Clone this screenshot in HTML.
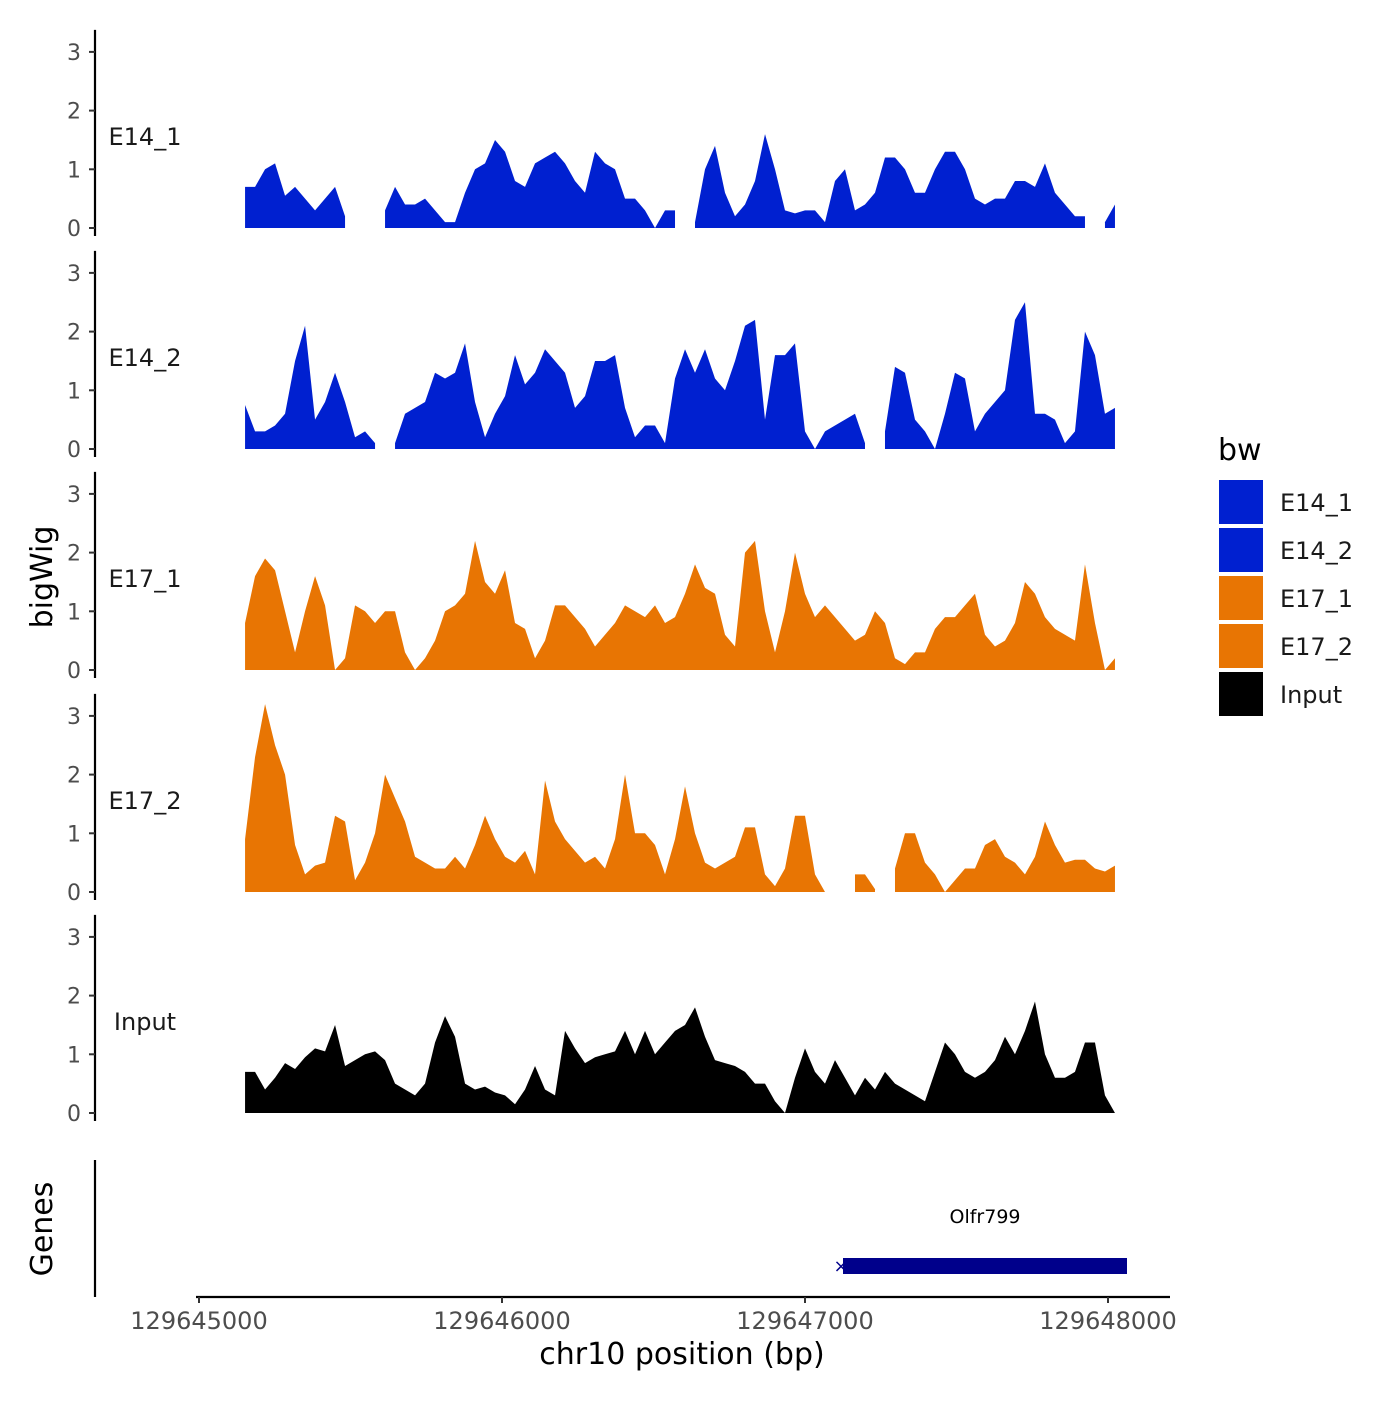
<!DOCTYPE html>
<html><head><meta charset="utf-8"><style>
body{margin:0;background:#fff}
svg text{font-family:"DejaVu Sans","Liberation Sans",sans-serif}
</style></head><body>
<svg id="chart" width="1400" height="1400" xmlns="http://www.w3.org/2000/svg">
<rect width="1400" height="1400" fill="#fff"/>
<g id="panels"></g>
<g id="xaxis"></g>
<text x="682" y="1364" font-size="30" text-anchor="middle">chr10 position (bp)</text>
<text transform="translate(52,577) rotate(-90)" font-size="30" text-anchor="middle">bigWig</text>
<text transform="translate(52,1229) rotate(-90)" font-size="30" text-anchor="middle">Genes</text>
<line x1="95" y1="1160" x2="95" y2="1297" stroke="#000" stroke-width="2.2"/>
<g>
<rect x="843" y="1258" width="284" height="16" fill="#00008B"/>
<text x="841" y="1272" font-size="18" fill="#00008B" text-anchor="middle">×</text>
<text x="985" y="1223" font-size="19" text-anchor="middle">Olfr799</text>
</g>
<g id="legend"></g>
</svg>
<script>
const trackNames=["E14_1","E14_2","E17_1","E17_2","Input"];
const trackColors=["#0020D0","#0020D0","#E87503","#E87503","#000000"];
const startBp=129645152, stepBp=33;
const yTicks=[0,1,2,3];
const xTicks=[129645000,129646000,129647000,129648000];
const n=null;
const s1=[0.7,0.7,1.0,1.1,0.55,0.7,0.5,0.3,0.5,0.7,0.2,n,n,n,0.3,0.7,0.4,0.4,0.5,0.3,0.1,0.1,0.6,1.0,1.1,1.5,1.3,0.8,0.7,1.1,1.2,1.3,1.1,0.8,0.6,1.3,1.1,1.0,0.5,0.5,0.3,0.0,0.3,0.3,n,0.1,1.0,1.4,0.6,0.2,0.4,0.8,1.6,1.0,0.3,0.25,0.3,0.3,0.1,0.8,1.0,0.3,0.4,0.6,1.2,1.2,1.0,0.6,0.6,1.0,1.3,1.3,1.0,0.5,0.4,0.5,0.5,0.8,0.8,0.7,1.1,0.6,0.4,0.2,0.2,n,0.1,0.4];
const s2=[0.75,0.3,0.3,0.4,0.6,1.5,2.1,0.5,0.8,1.3,0.8,0.2,0.3,0.1,n,0.1,0.6,0.7,0.8,1.3,1.2,1.3,1.8,0.8,0.2,0.6,0.9,1.6,1.1,1.3,1.7,1.5,1.3,0.7,0.9,1.5,1.5,1.6,0.7,0.2,0.4,0.4,0.1,1.2,1.7,1.3,1.7,1.2,1.0,1.5,2.1,2.2,0.5,1.6,1.6,1.8,0.3,0.0,0.3,0.4,0.5,0.6,0.1,n,0.3,1.4,1.3,0.5,0.3,0.0,0.6,1.3,1.2,0.3,0.6,0.8,1.0,2.2,2.5,0.6,0.6,0.5,0.1,0.3,2.0,1.6,0.6,0.7];
const s3=[0.8,1.6,1.9,1.7,1.0,0.3,1.0,1.6,1.1,0.0,0.2,1.1,1.0,0.8,1.0,1.0,0.3,0.0,0.2,0.5,1.0,1.1,1.3,2.2,1.5,1.3,1.7,0.8,0.7,0.2,0.5,1.1,1.1,0.9,0.7,0.4,0.6,0.8,1.1,1.0,0.9,1.1,0.8,0.9,1.3,1.8,1.4,1.3,0.6,0.4,2.0,2.2,1.0,0.3,1.0,2.0,1.3,0.9,1.1,0.9,0.7,0.5,0.6,1.0,0.8,0.2,0.1,0.3,0.3,0.7,0.9,0.9,1.1,1.3,0.6,0.4,0.5,0.8,1.5,1.3,0.9,0.7,0.6,0.5,1.8,0.8,0.0,0.2];
const s4=[0.9,2.3,3.2,2.5,2.0,0.8,0.3,0.45,0.5,1.3,1.2,0.2,0.5,1.0,2.0,1.6,1.2,0.6,0.5,0.4,0.4,0.6,0.4,0.8,1.3,0.9,0.6,0.5,0.7,0.3,1.9,1.2,0.9,0.7,0.5,0.6,0.4,0.9,2.0,1.0,1.0,0.8,0.3,0.9,1.8,1.0,0.5,0.4,0.5,0.6,1.1,1.1,0.3,0.1,0.4,1.3,1.3,0.3,0.0,n,n,0.3,0.3,0.05,n,0.4,1.0,1.0,0.5,0.3,0.0,0.2,0.4,0.4,0.8,0.9,0.6,0.5,0.3,0.6,1.2,0.8,0.5,0.55,0.55,0.4,0.35,0.45];
const s5=[0.7,0.7,0.4,0.6,0.85,0.75,0.95,1.1,1.05,1.5,0.8,0.9,1.0,1.05,0.9,0.5,0.4,0.3,0.5,1.2,1.65,1.3,0.5,0.4,0.45,0.35,0.3,0.15,0.4,0.8,0.4,0.3,1.4,1.1,0.85,0.95,1.0,1.05,1.4,1.0,1.4,1.0,1.2,1.4,1.5,1.8,1.3,0.9,0.85,0.8,0.7,0.5,0.5,0.2,0.0,0.6,1.1,0.7,0.5,0.9,0.6,0.3,0.6,0.4,0.7,0.5,0.4,0.3,0.2,0.7,1.2,1.0,0.7,0.6,0.7,0.9,1.3,1.0,1.4,1.9,1.0,0.6,0.6,0.7,1.2,1.2,0.3,0.0];
const series=[s1,s2,s3,s4,s5];
const NS="http://www.w3.org/2000/svg";
function xScale(bp){return 199+(bp-129645000)*0.303;}
const zeros=[228,449,670,892,1113];
function yScale(v,p){return zeros[p]-v*58.7;}
function mk(tag,attrs,parent){const e=document.createElementNS(NS,tag);for(const k in attrs)e.setAttribute(k,attrs[k]);parent.appendChild(e);return e;}
const panels=document.getElementById('panels');
series.forEach((vals,p)=>{
  const g=mk('g',{},panels);
  
  
  const ax=mk('line',{x1:95,y1:yScale(3,p)-22,x2:95,y2:zeros[p]+8,stroke:'#000','stroke-width':2.2},g);
  
  
  yTicks.forEach(t=>{
    const y=yScale(t,p);
    const tk=mk('line',{x1:89,y1:y,x2:95,y2:y,stroke:'#333','stroke-width':2},g);
    
    
    const tl=mk('text',{x:81,y:y+8,'font-size':22,fill:'#4d4d4d','text-anchor':'end'},g);
    tl.textContent=t;
    
    
  });
  const lab=mk('text',{x:145,y:yScale(1.55,p)+8,'font-size':24,'text-anchor':'middle',fill:'#1a1a1a'},g);
  lab.textContent=trackNames[p];
  
  
  let run=[];
  const flush=()=>{
    if(run.length>1){
      let d='M'+run[0][0]+','+zeros[p];
      run.forEach(q=>{d+=' L'+q[0]+','+q[1];});
      d+=' L'+run[run.length-1][0]+','+zeros[p]+'Z';
      const a=mk('path',{d:d,fill:trackColors[p]},g);
      
      
    }
    run=[];
  };
  vals.forEach((v,i)=>{
    if(v===null){flush();return;}
    run.push([xScale(startBp+stepBp*i),yScale(v,p)]);
  });
  flush();
});
const xa=document.getElementById('xaxis');
const xl=mk('line',{x1:196,y1:1297,x2:1170,y2:1297,stroke:'#000','stroke-width':2.2},xa);


xTicks.forEach(t=>{
  const x=xScale(t);
  const tk=mk('line',{x1:x,y1:1297,x2:x,y2:1303,stroke:'#333','stroke-width':2},xa);
  
  
  const tl=mk('text',{x:x,y:1329,'font-size':24,fill:'#4d4d4d','text-anchor':'middle'},xa);
  tl.textContent=t;
  
  
});
const lg=document.getElementById('legend');
const lt=mk('text',{x:1218,y:460,'font-size':30},lg);
lt.textContent='bw';


trackNames.forEach((nm,i)=>{
  const y=480+48*i;
  const r=mk('rect',{x:1219,y:y,width:44,height:44,fill:trackColors[i]},lg);
  
  
  const t=mk('text',{x:1280,y:y+31,'font-size':24,fill:'#1a1a1a'},lg);
  t.textContent=nm;
  
  
});
</script>
</body></html>
